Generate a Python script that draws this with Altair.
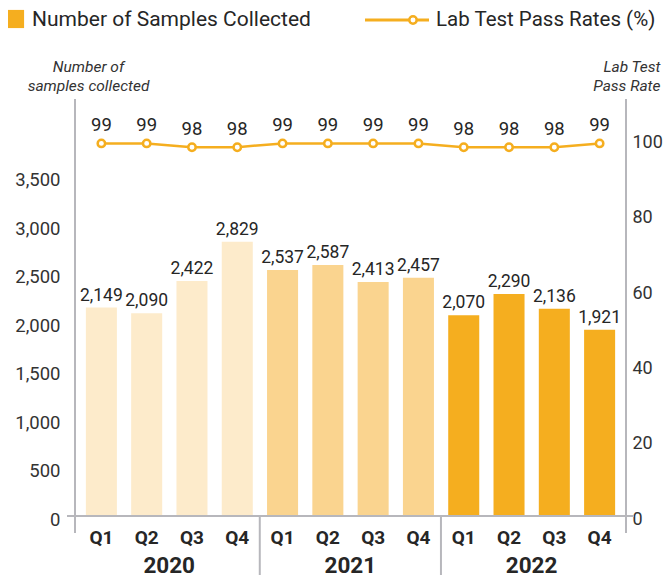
import altair as alt
import pandas as pd

# ---- data ----
years = ["2020", "2020", "2020", "2020", "2021", "2021", "2021", "2021", "2022", "2022", "2022", "2022"]
quarters = ["Q1", "Q2", "Q3", "Q4", "Q1", "Q2", "Q3", "Q4", "Q1", "Q2", "Q3", "Q4"]
samples = [2149, 2090, 2422, 2829, 2537, 2587, 2413, 2457, 2070, 2290, 2136, 1921]
pass_rates = [99, 99, 98, 98, 99, 99, 99, 99, 98, 98, 98, 99]
year_list = ["2020", "2021", "2022"]
left_ticks = [0, 500, 1000, 1500, 2000, 2500, 3000, 3500]
right_ticks = [0, 20, 40, 60, 80, 100]

keys = [f"{y} {q}" for y, q in zip(years, quarters)]
df = pd.DataFrame({"key": keys, "year": years, "quarter": quarters,
                   "samples": samples, "pass": pass_rates})
year_df = pd.DataFrame({"key": [f"{y} Q2" for y in year_list], "label": year_list})
sep_df = pd.DataFrame({"key": [f"{y} Q4" for y in year_list[:-1]]})
one = pd.DataFrame({"a": [0]})

FONT = "Roboto"
ORANGE = "#F5AE1F"
GREY = "#B7B7BC"
DARK = "#262626"
W, H = 551, 417
HALF_GAP = 7
TOP = 91

xscale = alt.Scale(domain=keys, paddingInner=0.315, paddingOuter=0.24)
x_enc = alt.X("key:N", sort=keys, scale=xscale, axis=None)
x_end = alt.X("key:N", sort=keys, scale=xscale, axis=None, bandPosition=1)

y_left = alt.Y(
    "samples:Q",
    scale=alt.Scale(domain=[0, 4300], nice=False, zero=True),
    axis=alt.Axis(values=left_ticks, labelExpr="format(datum.value, ',')", domain=False,
                  ticks=False, grid=False,
                  labelFontSize=18.5, labelColor="#333", labelPadding=15, labelOffset=3,
                  labelFont=FONT,
                  title=["Number of", "samples collected"], titleAngle=0, titleX=13, titleY=-28,
                  titleAlign="center", titleBaseline="alphabetic", titleFontStyle="italic",
                  titleFontWeight="normal", titleFontSize=15.5, titleFont=FONT, titleColor="#333",
                  titleLineHeight=19),
)
y_right = alt.Y(
    "pass:Q",
    scale=alt.Scale(domain=[0, 110.8], nice=False, zero=True),
    axis=alt.Axis(orient="right", values=right_ticks, domain=False, ticks=False, grid=False,
                  labelFontSize=18, labelColor="#333", labelPadding=6, labelOffset=3,
                  labelFont=FONT,
                  title=["Lab Test", "Pass Rate"], titleAngle=0, titleX=34, titleY=-28,
                  titleAlign="right", titleBaseline="alphabetic", titleFontStyle="italic",
                  titleFontWeight="normal", titleFontSize=15.5, titleFont=FONT, titleColor="#333",
                  titleLineHeight=19),
)

base = alt.Chart(df)

bars = base.mark_bar().encode(
    x=x_enc, y=y_left,
    color=alt.Color("year:N", scale=alt.Scale(domain=year_list,
                    range=["#FDEBCB", "#FAD48F", ORANGE]), legend=None),
)
bar_text = base.mark_text(dy=-12, fontSize=17.5, font=FONT, color=DARK, baseline="middle").encode(
    x=x_enc, y=y_left, text=alt.Text("samples:Q", format=","))
left = alt.layer(bars, bar_text)

line = base.mark_line(color=ORANGE, strokeWidth=2.5).encode(x=x_enc, y=y_right)
pts = base.mark_point(filled=True, fill="white", stroke=ORANGE, strokeWidth=2.5, size=55,
                      opacity=1, shape="circle").encode(x=x_enc, y=y_right)
line_text = base.mark_text(dy=-18, fontSize=18.5, font=FONT, color=DARK, baseline="middle").encode(
    x=x_enc, y=y_right, text="pass:Q")
right = alt.layer(line, pts, line_text)

# x-axis decorations
q_text = base.mark_text(fontSize=19, font=FONT, fontWeight="bold", color=DARK,
                        baseline="middle").encode(x=x_enc, y=alt.value(439), text="quarter:N")
y_text = alt.Chart(year_df).mark_text(fontSize=22.5, font=FONT, fontWeight="bold", color=DARK,
                                      baseline="middle", xOffset=HALF_GAP).encode(
    x=x_end, y=alt.value(467), text="label:N")
seps = alt.Chart(sep_df).mark_rule(color=GREY, strokeWidth=2, xOffset=HALF_GAP).encode(
    x=x_end, y=alt.value(H), y2=alt.value(476))

baseline = alt.Chart(one).mark_rule(color=GREY, strokeWidth=2).encode(
    x=alt.value(-8), x2=alt.value(W + 8), y=alt.value(H))
laxis = alt.Chart(one).mark_rule(color=GREY, strokeWidth=2).encode(
    x=alt.value(0), y=alt.value(0), y2=alt.value(H + 17))
raxis = alt.Chart(one).mark_rule(color=GREY, strokeWidth=2).encode(
    x=alt.value(W), y=alt.value(0), y2=alt.value(H + 17))

# legend (positions relative to plot origin)
LY = 20 - (TOP + 8)
leg_sq = alt.Chart(one).mark_square(color=ORANGE, size=330, opacity=1).encode(
    x=alt.value(-60), y=alt.value(LY - 1))
leg_t1 = alt.Chart(one).mark_text(text="Number of Samples Collected", fontSize=21, font=FONT,
                                   color=DARK, align="left", baseline="middle").encode(
    x=alt.value(-43), y=alt.value(LY))
leg_line = alt.Chart(one).mark_rule(color=ORANGE, strokeWidth=3).encode(
    x=alt.value(290), x2=alt.value(354), y=alt.value(LY))
leg_pt = alt.Chart(one).mark_point(filled=True, fill="white", stroke=ORANGE, strokeWidth=2.5,
                                   size=55, opacity=1).encode(x=alt.value(338), y=alt.value(LY))
leg_t2 = alt.Chart(one).mark_text(text="Lab Test Pass Rates (%)", fontSize=20.5, font=FONT,
                                   color=DARK, align="left", baseline="middle").encode(
    x=alt.value(361), y=alt.value(LY))

chart = alt.layer(
    left, right, baseline, laxis, raxis, seps, q_text, y_text,
    leg_sq, leg_t1, leg_line, leg_pt, leg_t2,
).resolve_scale(y="independent").properties(
    width=W, height=H,
    autosize=alt.AutoSizeParams(type="none"),
    padding={"left": 67, "top": TOP, "right": 38, "bottom": 572 - TOP - H},
).configure_view(stroke=None)

chart.save("out.html", embed_options={"renderer": "svg", "actions": False})
